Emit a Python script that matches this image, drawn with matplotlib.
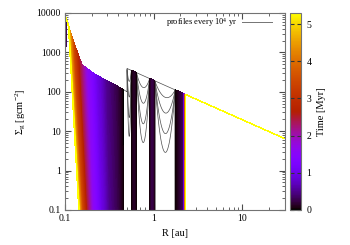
import numpy as np
import matplotlib
matplotlib.use("Agg")
import matplotlib.pyplot as plt
from matplotlib.collections import LineCollection
from matplotlib.colors import Normalize
from matplotlib.cm import ScalarMappable
from matplotlib.ticker import FuncFormatter, LogLocator, NullFormatter

plt.rcParams['font.family'] = ['Liberation Serif', 'DejaVu Serif']
plt.rcParams['mathtext.fontset'] = 'custom'
plt.rcParams['mathtext.rm'] = 'Liberation Serif'
plt.rcParams['mathtext.it'] = 'Liberation Serif:italic'

# profile times [Myr], one every 1e4 yr
t_max = 5.3
t_prof = np.round(np.arange(0, t_max + 0.001, 0.01), 2)

# inner disc envelope (R [au], Sigma [g cm^-2])
env_r = [0.10, 0.115, 0.13, 0.155, 0.22, 0.31, 0.46, 0.50]
env_s = [9000, 3200, 1400, 480, 270, 180, 112, 100]

# inner disc truncation: radius where Sigma falls to 0.1, and steepness
cut_t = [0, 0.25, 0.5, 1.0, 1.6, 2.5, 3.5, 4.5, 5.3]
cut_r = [0.46, 0.39, 0.31, 0.25, 0.205, 0.175, 0.155, 0.146, 0.143]
cut_q = [500, 200, 110, 70, 55, 45, 42, 40, 40]

# early profiles: small dip at the inner boundary
dip_tmax = 0.3
dip_s0 = 480

# ring / outer disc: Sigma = ring_c / R
ring_c = 195.0
ring_in = 0.50
piece_lo = [0.56, 0.90]
piece_hi = [0.64, 1.03]
piece_life = [0.15, 0.25]
out_t = [0, 0.3, 1.0, 2.0, 5.3]
out_r = [1.75, 2.15, 2.22, 2.25, 2.28]
gap_lo = [0.50, 0.64, 1.03]
gap_hi = [0.56, 0.90, 1.75]
gap_depth = [0.5, 0.2, 0.06, 0.02]   # profiles 1..4

R = np.geomspace(0.1, 30, 4000)
lR = np.log10(R)
logE = np.interp(lR, np.log10(env_r), np.log10(env_s))
top = np.log10(ring_c / R)

segs = []
thin = []
for k, t in enumerate(t_prof):
    if k == 0:
        s = np.where(R < ring_in, logE, top)
        thin.append(np.column_stack([R, 10 ** s]))
        continue
    rb = np.interp(t, cut_t, cut_r)
    q = np.interp(t, cut_t, cut_q)
    s_in = np.minimum(logE, -1 - q * np.log10(R / rb))
    if t < dip_tmax:
        s_in = np.minimum(s_in, np.log10(dip_s0) + 60 * np.log10(R / 0.1))
    s = np.where(R < ring_in, s_in, -4.0)
    ro = np.interp(t, out_t, out_r)
    s = np.where(R >= ro, top, s)
    for lo, hi, life in zip(piece_lo, piece_hi, piece_life):
        if t < life:
            c = np.sqrt(lo * hi)
            f = t / life
            lo_t = lo * (c / lo) ** f
            hi_t = hi * (c / hi) ** f
            s = np.where((R >= lo_t) & (R <= hi_t), top, s)
    if k <= len(gap_depth):
        d = np.log10(gap_depth[k - 1])
        g = s.copy()
        for lo, hi in zip(gap_lo, gap_hi):
            m = (R >= lo) & (R <= hi)
            u = (lR - 0.5 * (np.log10(lo) + np.log10(hi))) / (0.5 * (np.log10(hi) - np.log10(lo)))
            g = np.where(m, top + (1 - u ** 2) * d, g)
        gm = (R >= ring_in) & (R < ro)
        thin.append(np.column_stack([R[gm], 10 ** g[gm]]))
    segs.append(np.column_stack([R, 10 ** s]))

cmap = plt.get_cmap('gnuplot')
norm = Normalize(0, t_max)

fig = plt.figure(figsize=(3.5, 2.45), dpi=100)
ax = fig.add_axes([0.186, 0.143, 0.627, 0.804])
cax = fig.add_axes([0.829, 0.143, 0.031, 0.804])

ax.set_xscale('log')
ax.set_yscale('log')
lc_thin = LineCollection(thin, colors='0.3', linewidths=0.5)
ax.add_collection(lc_thin)
lc = LineCollection(segs, colors=cmap(norm(t_prof[1:])), linewidths=0.3,
                    antialiaseds=False)
ax.add_collection(lc)
ax.set_xlim(0.1, 30)
ax.set_ylim(0.1, 10000)

fmt = FuncFormatter(lambda v, p: ('%g' % v))
ax.xaxis.set_major_formatter(fmt)
ax.yaxis.set_major_formatter(fmt)
ax.xaxis.set_minor_formatter(NullFormatter())
ax.yaxis.set_minor_locator(LogLocator(base=10, subs=np.arange(2, 10), numticks=20))
ax.tick_params(which='both', direction='in', top=True, right=True,
               labelsize=7, color='0.3', pad=3)
ax.tick_params(which='major', length=4)
ax.tick_params(which='minor', length=2)
for sp in ax.spines.values():
    sp.set_color('0.45')

ax.set_xlabel('R [au]', fontsize=7.5, labelpad=4)
ax.set_ylabel(r'Σ$_\mathrm{g}$ [gcm$^{-2}$]', fontsize=7.5, labelpad=6)

ax.text(0.781, 0.954, r'profiles every 10$^4$ yr', transform=ax.transAxes,
        ha='right', va='center', fontsize=6)
ax.plot([0.808, 0.945], [0.954, 0.954], color='0.45', lw=0.7,
        transform=ax.transAxes)

cb = fig.colorbar(ScalarMappable(norm=norm, cmap=cmap), cax=cax)
cb.set_ticks([0, 1, 2, 3, 4, 5])
cb.outline.set_edgecolor('0.45')
cax.tick_params(direction='in', left=True, right=True, length=3,
                labelsize=7, color='0.2', pad=4)
cb.set_label('Time [Myr]', fontsize=7.5, labelpad=4)

fig.savefig('out.png', dpi=100)
